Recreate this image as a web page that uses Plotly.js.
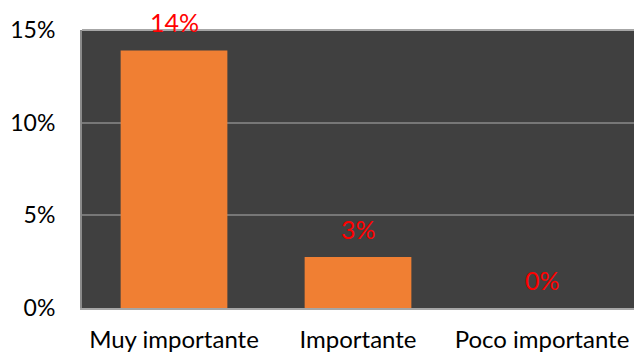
<!DOCTYPE html>
<html><head><meta charset="utf-8">
<script src="https://cdn.plot.ly/plotly-3.0.1.min.js"></script>
<style>html,body{margin:0;padding:0;background:#fff}#c{width:634px;height:356px}</style>
</head><body><div id="c"></div>
<script>
const categories = ["Muy importante", "Importante", "Poco importante"];
const values = [0.139, 0.0275, 0];
const labels = ["14%", "3%", "0%"];
const yTicks = [0, 0.05, 0.10, 0.15];
const yTickText = ["0%", "5%", "10%", "15%"];

const font = "Lato, 'Open Sans', sans-serif";
const trace = {
  type: "bar", x: categories, y: values,
  marker: {color: "#f07f33", line: {width: 0}},
  hoverinfo: "none"
};
const annotations = categories.map((c, i) => ({
  x: c, y: values[i], xref: "x", yref: "y", text: labels[i],
  showarrow: false, yshift: 28, font: {family: font, size: 25, color: "#ff0000"}
}));
Plotly.newPlot("c", [trace], {
  width: 634, height: 356,
  margin: {l: 82, r: 0, t: 30, b: 48},
  paper_bgcolor: "#ffffff", plot_bgcolor: "#404040",
  bargap: 0.42, showlegend: false,
  xaxis: {tickfont: {family: font, size: 24, color: "#000"}, showgrid: false,
          showline: true, linecolor: "#a6a6a6", linewidth: 2, ticks: "", ticklabelstandoff: 9},
  yaxis: {range: [0, 0.15], tickvals: yTicks, ticktext: yTickText, showgrid: true,
          gridcolor: "#777777", gridwidth: 2, zeroline: false, showline: true,
          linecolor: "#8a8a8a", linewidth: 2, ticks: "", ticklabelstandoff: 20,
          tickfont: {family: font, size: 23, color: "#000"}},
  annotations: annotations,
  shapes: [{type: "line", xref: "paper", yref: "paper", x0: 0, x1: 1, y0: 1, y1: 1,
            line: {color: "#a6a6a6", width: 2}}]
}, {displayModeBar: false, staticPlot: true});
</script></body></html>
